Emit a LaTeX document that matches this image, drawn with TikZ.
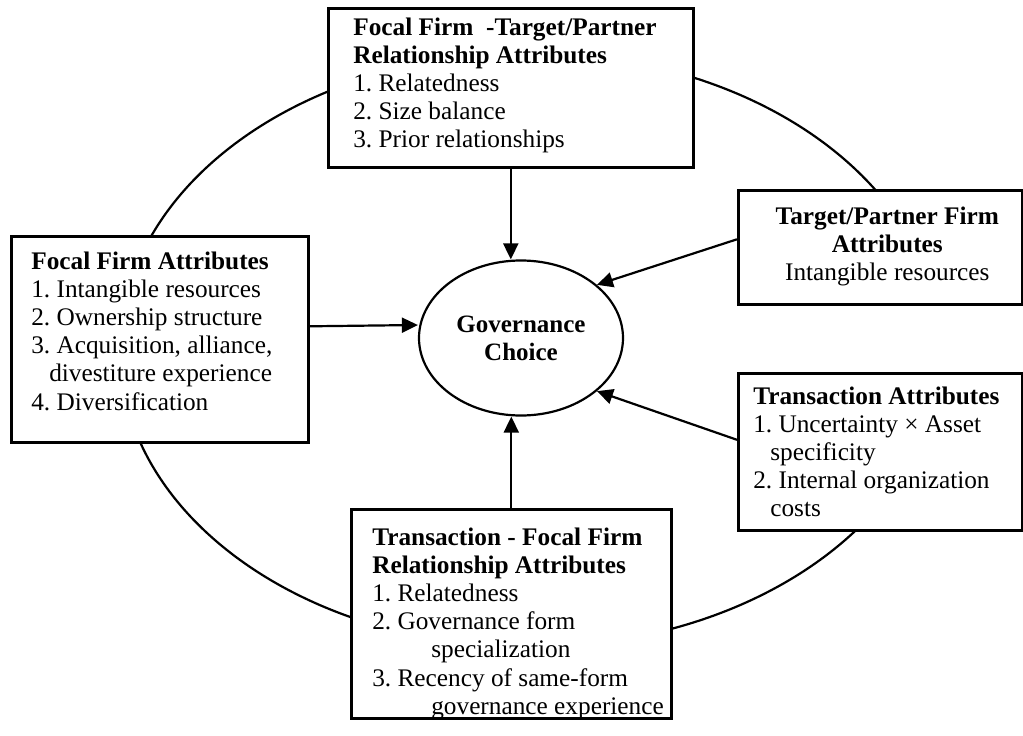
\documentclass[tikz,border=0pt]{standalone}
\usepackage{fontspec}
\setmainfont{Liberation Serif}
\usetikzlibrary{arrows.meta,shapes.geometric}
\frenchspacing
\newcommand\bxt[5]{\parbox[c][#2pt][t]{#1pt}{#4\vspace*{#3pt}\strut#5}}
\begin{document}
\begin{tikzpicture}[x=1pt,y=-1pt,
  box/.style={draw, line width=2.6pt, fill=white, anchor=north west, inner sep=0pt,
    font=\fontsize{25.3}{28.2}\selectfont},
  arr/.style={line width=2.2pt, -{Triangle[length=16pt,width=15pt]}},
  ring/.style={line width=2.2pt},
  hub/.style={draw, ellipse, line width=2.2pt, fill=white, minimum width=204pt,
    minimum height=155pt, inner sep=0pt, align=center,
    font=\bfseries\fontsize{25}{28}\selectfont}]
\useasboundingbox (0,0) rectangle (1023,736);

% outer ring (open on the right between the two right boxes)
\begin{scope}
  \clip (0,0) rectangle (1023,303) (0,303) rectangle (737,372) (0,372) rectangle (1023,736);
  \draw[ring] (530,350) ellipse [x radius=410, y radius=297];
\end{scope}

% central node
\node[hub] (gc) at (521,338) {Governance\\Choice};

% boxes
\node[box] (fft) at (327,7) {\bxt{365}{159}{7}{\raggedright\leftskip=25pt\relax}{%
  \textbf{Focal Firm\ \ -Target/Partner}\\
  \textbf{Relationship Attributes}\\
  1. Relatedness\\
  2. Size balance\\
  3. Prior relationships}};

\node[box] (ffa) at (10,235) {\bxt{297}{206}{13}{\raggedright\leftskip=20pt\relax}{%
  \textbf{Focal Firm Attributes}\\
  1. Intangible resources\\
  2. Ownership structure\\
  3. Acquisition, alliance,\\
  \hspace*{18pt}divestiture experience\\
  4. Diversification}};

\node[box] (tp) at (737,189) {\bxt{284}{114}{14}{\centering\leftskip=14pt plus 1fil\relax}{%
  \textbf{Target/Partner Firm}\\
  \textbf{Attributes}\\
  Intangible resources}};

\node[box] (ta) at (737,372) {\bxt{284}{157}{11}{\raggedright\leftskip=15pt\relax}{%
  \textbf{Transaction Attributes}\\
  1. Uncertainty × Asset\\
  \hspace*{17pt}specificity\\
  2. Internal organization\\
  \hspace*{17pt}costs}};

\node[box] (tfr) at (350,508) {\bxt{320}{209}{16}{\raggedright\leftskip=21pt\relax}{%
  \textbf{Transaction - Focal Firm}\\
  \textbf{Relationship Attributes}\\
  1. Relatedness\\
  2. Governance form\\
  \hspace*{59pt}specialization\\
  3. Recency of same-form\\
  \hspace*{59pt}governance experience}};

% connectors
\draw[arr] (fft.south) -- (fft.south |- gc.north);
\draw[arr] (tfr.north) -- (tfr.north |- gc.south);
\draw[arr] ([yshift=13pt]ffa.east) -- ([yshift=13pt]gc.west);
\draw[arr] ([yshift=8pt]tp.west) -- (gc.35);
\draw[arr] ([yshift=12pt]ta.west) -- (gc.-35);
\end{tikzpicture}
\end{document}
